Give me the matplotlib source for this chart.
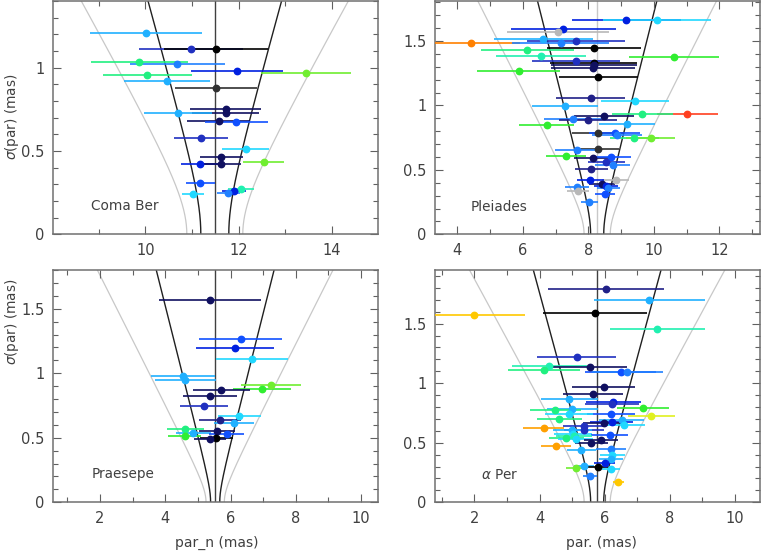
import numpy as np
import matplotlib
matplotlib.use("Agg")
import matplotlib.pyplot as plt
from matplotlib.ticker import MultipleLocator, FuncFormatter

PAL = {
    'k': '#000000', 'dk': '#303030', 'navy': '#101060', 'dnavy': '#202088',
    'mblue': '#2030c0', 'blue': '#0020e0', 'rblue': '#1050ff', 'dodger': '#2080ff',
    'dsky': '#20b0ff', 'cyan': '#20d8ff', 'aqua': '#20f0b0', 'spring': '#20f080',
    'green': '#30ee30', 'lawn': '#70ee30', 'yellow': '#e0f020', 'gold': '#ffc800',
    'orange': '#ffa000', 'dorange': '#ff8000', 'red': '#ff4020', 'grey': '#b8b8b8',
}

# ---------------- Coma Ber ----------------
coma_name = "Coma Ber"
coma_mu, coma_s0 = 11.49, 0.30
coma_x = [10.01, 10.98, 11.51, 9.87, 10.69, 11.97, 13.45, 10.04, 10.46, 11.51,
          11.72, 11.72, 10.71, 11.57, 11.95, 11.20, 12.15, 11.63, 12.54, 11.18,
          11.63, 11.18, 12.05, 11.90, 11.78, 11.02]
coma_sig = [1.206, 1.114, 1.114, 1.036, 1.020, 0.980, 0.966, 0.954, 0.918, 0.876,
            0.752, 0.728, 0.728, 0.677, 0.673, 0.577, 0.513, 0.465, 0.435, 0.421,
            0.419, 0.305, 0.273, 0.260, 0.245, 0.243]
coma_col = ['dsky', 'mblue', 'k', 'spring', 'dodger', 'blue', 'lawn', 'spring', 'dsky', 'dk',
            'navy', 'navy', 'dsky', 'navy', 'rblue', 'mblue', 'cyan', 'navy', 'lawn', 'blue',
            'navy', 'rblue', 'aqua', 'blue', 'dodger', 'cyan']

# ---------------- Pleiades ----------------
plei_name = "Pleiades"
plei_mu, plei_s0 = 8.27, 0.20
plei_x = [9.16, 10.10, 7.24, 7.08, 6.62, 7.63, 4.42, 7.16, 8.17, 6.14,
          6.56, 10.62, 7.63, 8.17, 8.17, 8.15, 5.87, 8.31, 8.07, 9.42,
          7.29, 11.02, 9.64, 8.48, 7.54, 7.98, 9.17, 6.73, 8.30, 8.80,
          8.87, 9.40, 9.90, 8.28, 7.64, 7.32, 8.15, 8.69, 8.55, 8.74,
          8.09, 8.83, 8.06, 8.42, 8.54, 8.61, 7.66, 7.67, 8.51, 8.03]
plei_sig = [1.659, 1.659, 1.592, 1.566, 1.514, 1.501, 1.483, 1.483, 1.442, 1.426,
            1.382, 1.372, 1.341, 1.326, 1.313, 1.289, 1.266, 1.217, 1.057, 1.031,
            0.997, 0.933, 0.930, 0.917, 0.897, 0.886, 0.858, 0.845, 0.786, 0.786,
            0.767, 0.749, 0.747, 0.664, 0.656, 0.610, 0.589, 0.599, 0.558, 0.540,
            0.509, 0.419, 0.419, 0.388, 0.375, 0.359, 0.364, 0.336, 0.310, 0.251]
plei_col = ['blue', 'cyan', 'blue', 'grey', 'dsky', 'mblue', 'dorange', 'dodger', 'k', 'spring',
            'aqua', 'green', 'mblue', 'k', 'navy', 'navy', 'green', 'k', 'dnavy', 'cyan',
            'dsky', 'red', 'spring', 'navy', 'dodger', 'dnavy', 'dsky', 'green', 'dk', 'rblue',
            'dodger', 'spring', 'lawn', 'dk', 'dodger', 'green', 'navy', 'rblue', 'mblue', 'dodger',
            'dnavy', 'grey', 'blue', 'navy', 'blue', 'dodger', 'dodger', 'grey', 'rblue', 'dodger']

# ---------------- Praesepe ----------------
prae_name = "Praesepe"
prae_mu, prae_s0 = 5.53, 0.14
prae_x = [5.38, 6.31, 6.13, 6.66, 4.55, 4.62, 7.24, 6.96, 5.71, 5.37,
          5.19, 6.27, 5.67, 6.12, 4.61, 5.59, 4.86, 5.88, 4.60, 5.57, 5.38]
prae_sig = [1.564, 1.265, 1.193, 1.113, 0.979, 0.948, 0.907, 0.881, 0.874, 0.820,
            0.747, 0.668, 0.639, 0.611, 0.570, 0.554, 0.536, 0.531, 0.510, 0.500, 0.492]
prae_col = ['navy', 'rblue', 'blue', 'cyan', 'dsky', 'dsky', 'lawn', 'green', 'navy', 'navy',
            'mblue', 'cyan', 'dnavy', 'dsky', 'spring', 'navy', 'dsky', 'rblue', 'green', 'k', 'navy']

# ---------------- alpha Per ----------------
aper_name = r"$\alpha$ Per"
aper_mu, aper_s0 = 5.77, 0.20
aper_x = [6.04, 7.37, 5.70, 1.99, 7.62, 5.14, 4.30, 5.54, 4.14, 6.49,
          6.70, 5.97, 5.64, 4.92, 6.27, 6.23, 7.18, 5.01, 4.49, 6.19,
          4.91, 7.43, 4.61, 6.53, 6.21, 5.99, 6.59, 5.36, 4.13, 5.36,
          5.01, 5.03, 6.15, 5.06, 4.82, 5.11, 5.90, 5.59, 4.51, 6.19,
          5.28, 6.24, 6.20, 6.00, 5.36, 5.80, 5.11, 6.18, 5.56, 6.42]
aper_sig = [1.793, 1.697, 1.591, 1.571, 1.454, 1.221, 1.143, 1.134, 1.109, 1.095,
            1.095, 0.969, 0.908, 0.866, 0.840, 0.821, 0.793, 0.781, 0.773, 0.745,
            0.739, 0.728, 0.703, 0.692, 0.672, 0.669, 0.647, 0.644, 0.625, 0.605,
            0.611, 0.577, 0.563, 0.555, 0.543, 0.535, 0.524, 0.499, 0.471, 0.451,
            0.440, 0.398, 0.367, 0.328, 0.308, 0.300, 0.289, 0.277, 0.218, 0.174]
aper_col = ['dnavy', 'dsky', 'k', 'gold', 'aqua', 'mblue', 'aqua', 'navy', 'spring', 'rblue',
            'dodger', 'navy', 'navy', 'dsky', 'blue', 'mblue', 'green', 'dsky', 'spring', 'rblue',
            'cyan', 'yellow', 'spring', 'dsky', 'blue', 'navy', 'cyan', 'mblue', 'orange', 'mblue',
            'dsky', 'cyan', 'rblue', 'aqua', 'spring', 'cyan', 'navy', 'navy', 'orange', 'dodger',
            'dsky', 'cyan', 'dsky', 'blue', 'dsky', 'k', 'lawn', 'cyan', 'dodger', 'gold']

W, H = 763, 552
fig = plt.figure(figsize=(W / 100, H / 100), dpi=100)

def px_axes(l, t, r, b):
    return fig.add_axes([l / W, 1 - b / H, (r - l) / W, (b - t) / H])

TXT = '#404040'
panels = [
    (coma_name, coma_mu, coma_s0, coma_x, coma_sig, coma_col, (8.02, 14.99), 1.40, (53, 1, 378, 234.3), '#404040', 0.117, 0.123),
    (plei_name, plei_mu, plei_s0, plei_x, plei_sig, plei_col, (3.32, 13.24), 1.81, (435, 1, 760, 234.3), '#c8c8c8', 0.11, 0.118),
    (prae_name, prae_mu, prae_s0, prae_x, prae_sig, prae_col, (0.56, 10.52), 1.80, (53, 270, 378, 502.3), '#404040', 0.119, 0.122),
    (aper_name, aper_mu, aper_s0, aper_x, aper_sig, aper_col, (0.79, 10.77), 1.95, (435, 270, 760, 502.3), '#404040', 0.14, 0.118),
]

for name, mu, s0, xs, sig, cols, xlim, ymax, box, clc, tx, ty in panels:
    ax = px_axes(*box)
    yy = np.linspace(0, ymax, 300)
    w = np.sqrt(s0 ** 2 + yy ** 2)
    for k, c, lw in [(2, '#c8c8c8', 0.9), (1, '#202020', 1.0)]:
        ax.plot(mu - k * w, yy, color=c, lw=lw, zorder=1)
        ax.plot(mu + k * w, yy, color=c, lw=lw, zorder=1)
    ax.axvline(mu, color=clc, lw=1.0, zorder=1)
    for xv, sv, cn in zip(xs, sig, cols):
        c = PAL[cn]
        ax.errorbar([xv], [sv], xerr=[sv], fmt='o', color=c, ms=4.6, mec=c,
                    elinewidth=1.2, capsize=0, zorder=3)
    ax.set_xlim(*xlim)
    ax.set_ylim(0, ymax)
    ax.xaxis.set_major_locator(MultipleLocator(2))
    ax.xaxis.set_minor_locator(MultipleLocator(1))
    ax.yaxis.set_major_locator(MultipleLocator(0.5))
    ax.yaxis.set_minor_locator(MultipleLocator(0.1))
    ax.yaxis.set_major_formatter(FuncFormatter(lambda v, p: '%g' % v))
    ax.tick_params(which='both', direction='in', top=True, right=True,
                   colors='#606060', labelcolor=TXT, labelsize=10.5, width=0.8)
    ax.tick_params(which='major', length=6, pad=6)
    ax.tick_params(which='minor', length=3.5)
    for sp in ax.spines.values():
        sp.set_color('#707070')
        sp.set_linewidth(1.1)
    ax.text(tx, ty, name, transform=ax.transAxes, fontsize=9.8, color=TXT,
            ha='left', va='center')

fig.text(12 / W, 1 - 117 / H, r"$\sigma$(par) (mas)", rotation=90, fontsize=9.8,
         color=TXT, ha='center', va='center')
fig.text(12 / W, 1 - 322 / H, r"$\sigma$(par) (mas)", rotation=90, fontsize=9.8,
         color=TXT, ha='center', va='center')
fig.text(217 / W, 1 - 543 / H, "par_n (mas)", fontsize=10, color=TXT,
         ha='center', va='center')
fig.text(601 / W, 1 - 543 / H, "par. (mas)", fontsize=10, color=TXT,
         ha='center', va='center')

fig.savefig("out.png", dpi=100)
